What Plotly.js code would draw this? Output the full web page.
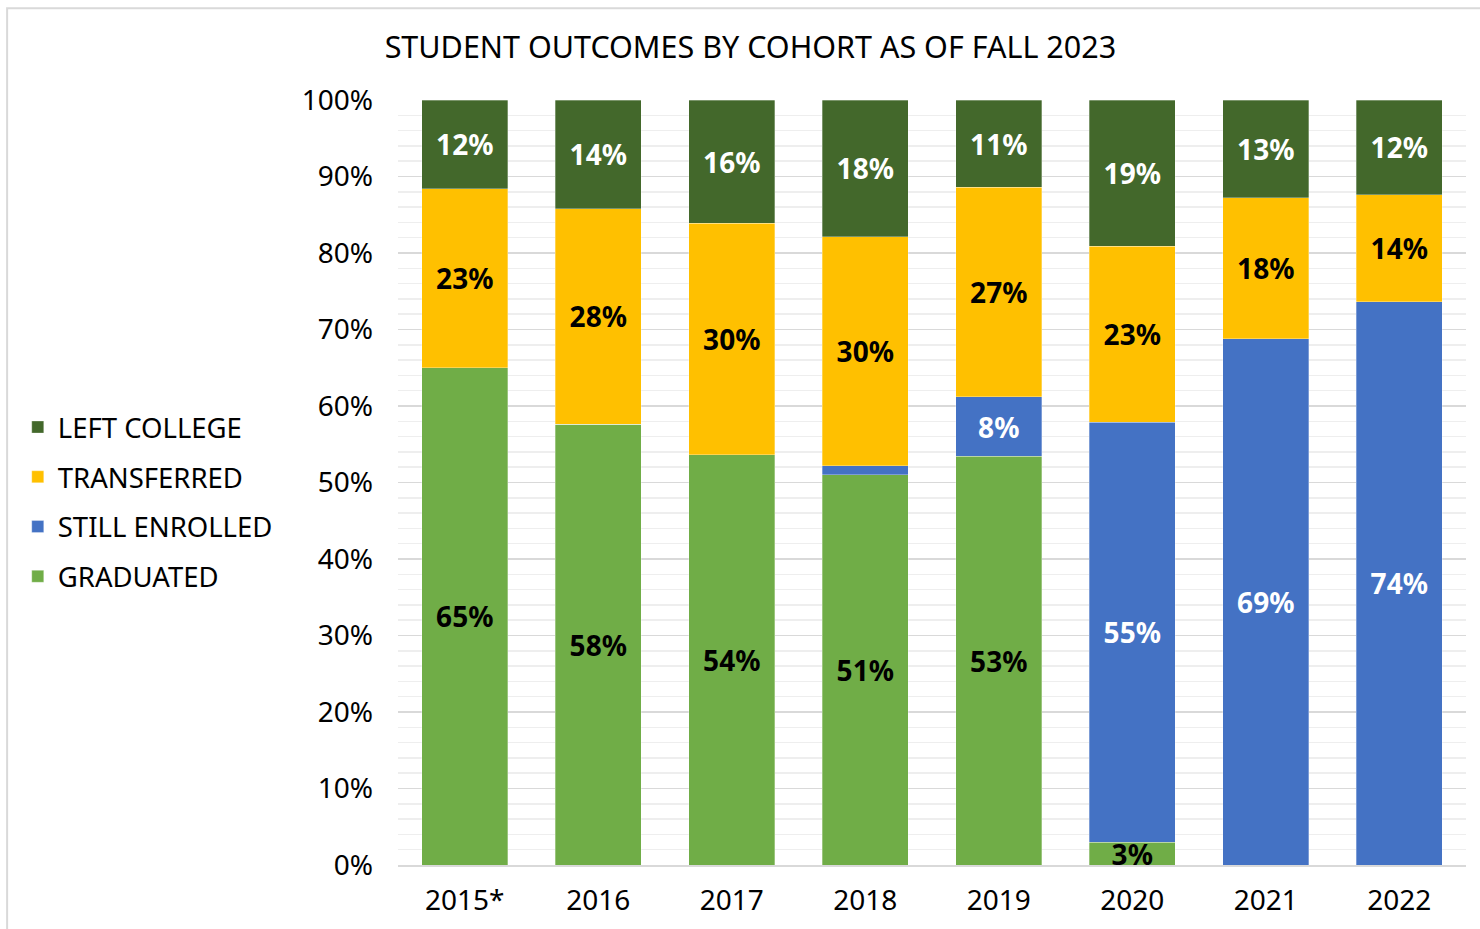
<!DOCTYPE html>
<html>
<head>
<meta charset="utf-8">
<script src="https://cdn.plot.ly/plotly-3.0.1.min.js"></script>
<style>html,body{margin:0;padding:0;background:#fff;}#chart{width:1480px;height:929px;}</style>
</head>
<body>
<div id="chart"></div>
<script>
const cohorts = ['2015*', '2016', '2017', '2018', '2019', '2020', '2021', '2022'];
const graduated = [65.0, 57.6, 53.6, 51.0, 53.4, 3.0, 0, 0];
const stillEnrolled = [0, 0, 0, 1.2, 7.8, 54.9, 68.8, 73.6];
const transferred = [23.4, 28.2, 30.3, 29.9, 27.4, 23.0, 18.4, 14.0];
const leftCollege = [11.6, 14.2, 16.1, 17.9, 11.4, 19.1, 12.8, 12.4];

const FONT = '"Noto Sans", "Open Sans", sans-serif';
function labels(arr) { return arr.map(v => v >= 2 ? Math.round(v) + '%' : ''); }

function mk(name, vals, color, txtColor, rank) {
  return {
    type: 'bar', name: name, x: cohorts, y: vals,
    marker: { color: color, line: { color: 'rgba(255,255,255,0.6)', width: 0.5 } },
    text: labels(vals), texttemplate: '%{text}', textposition: 'inside',
    insidetextanchor: 'middle', textangle: 0,
    textfont: { family: FONT, size: 28, color: txtColor, weight: 'bold' },
    hoverinfo: 'skip', legendrank: rank, legendgroup: 'g' + rank, cliponaxis: false
  };
}

const data = [
  mk('GRADUATED', graduated, '#70AD47', '#000000', 4),
  mk('STILL ENROLLED', stillEnrolled, '#4472C4', '#FFFFFF', 3),
  mk('TRANSFERRED', transferred, '#FFC000', '#000000', 2),
  mk('LEFT COLLEGE', leftCollege, '#43682B', '#FFFFFF', 1)
];

const layout = {
  width: 1480, height: 929,
  barmode: 'stack', bargap: 0.355,
  margin: { l: 398, r: 14, t: 100, b: 64 },
  paper_bgcolor: '#fff', plot_bgcolor: '#fff',
  font: { family: FONT, color: '#000' },
  uniformtext: { mode: 'show', minsize: 28 },
  title: { text: 'STUDENT OUTCOMES BY COHORT AS OF FALL 2023', xref: 'container', x: 0.507, xanchor: 'center',
           yref: 'container', y: 0.949, yanchor: 'middle', font: { family: FONT, size: 30.5, color: '#000' } },
  xaxis: { type: 'category', showline: true, linecolor: '#d9d9d9', linewidth: 1.5, ticks: '',
           tickfont: { family: FONT, size: 28, color: '#000' }, ticklabelstandoff: 10, showgrid: false },
  yaxis: { range: [0, 100], dtick: 10, ticksuffix: '%', showline: false, zeroline: false,
           gridcolor: '#d9d9d9', gridwidth: 1.5, ticks: '',
           tickfont: { family: FONT, size: 28, color: '#000' }, ticklabelstandoff: 24,
           minor: { dtick: 2, showgrid: true, gridcolor: '#eeeeee', gridwidth: 1.5 } },
  legend: { xref: 'container', yref: 'container', x: 0.012, y: 0.46, xanchor: 'left', yanchor: 'middle',
            traceorder: 'grouped', tracegroupgap: 11,
            font: { family: FONT, size: 27.5, color: '#000' }, itemwidth: 30 },
  showlegend: true,
  shapes: [{ type: 'rect', xref: 'paper', yref: 'paper', x0: -0.366, x1: 1.05, y0: -0.2, y1: 1.12,
             line: { color: '#d9d9d9', width: 2 }, fillcolor: 'rgba(0,0,0,0)', layer: 'below' }]
};

Plotly.newPlot('chart', data, layout, { displayModeBar: false, staticPlot: true });
</script>
</body>
</html>
